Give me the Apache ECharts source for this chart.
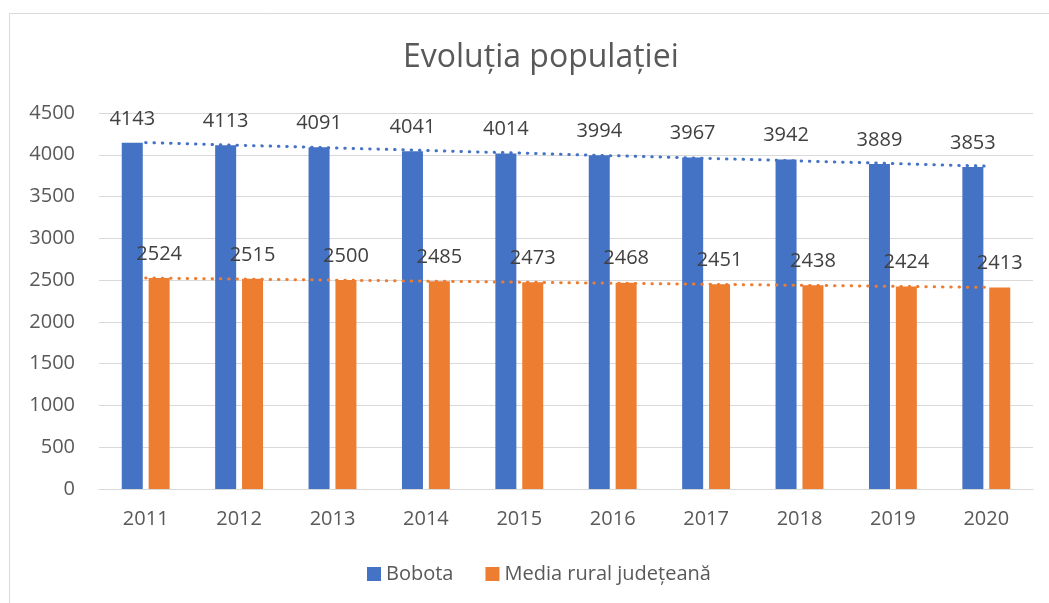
<!DOCTYPE html>
<html>
<head>
<meta charset="utf-8">
<script src="https://cdn.jsdelivr.net/npm/echarts@6/dist/echarts.min.js"></script>
<style>
  html, body { margin: 0; padding: 0; background: #fff; }
  #chart { position: absolute; left: 0; top: 0; width: 1049px; height: 603px; }
</style>
</head>
<body>
<div id="chart"></div>
<script>
const years = ['2011', '2012', '2013', '2014', '2015', '2016', '2017', '2018', '2019', '2020']
const bobota = [4143, 4113, 4091, 4041, 4014, 3994, 3967, 3942, 3889, 3853]
const mediaRural = [2524, 2515, 2500, 2485, 2473, 2468, 2451, 2438, 2424, 2413]

// linear trendline (least squares), like the Excel one
function trend (vals) {
  const n = vals.length
  const mx = (n - 1) / 2
  const my = vals.reduce((a, b) => a + b, 0) / n
  let sxy = 0
  let sxx = 0
  vals.forEach((v, i) => { sxy += (i - mx) * (v - my); sxx += (i - mx) * (i - mx) })
  const k = sxy / sxx
  return vals.map((v, i) => my + k * (i - mx))
}

const font = '"Open Sans", "Noto Sans", sans-serif'
const chart = echarts.init(document.getElementById('chart'))

const labelStyle = {
  show: true,
  position: 'top',
  distance: 14,
  color: '#404040',
  fontSize: 20,
  fontFamily: font
}

chart.setOption({
  animation: false,
  color: ['#4472C4', '#ED7D31'],
  graphic: [{
    type: 'rect',
    shape: { x: 9.5, y: 13.5, width: 1100, height: 700 },
    style: { fill: 'none', stroke: '#d9d9d9', lineWidth: 1 },
    silent: true
  }],
  title: {
    text: 'Evoluția populației',
    left: 398,
    top: 37,
    textStyle: { color: '#595959', fontSize: 32, fontWeight: 'normal', fontFamily: font }
  },
  legend: {
    data: ['Bobota', 'Media rural județeană'],
    bottom: 14,
    left: 362,
    itemWidth: 14,
    itemHeight: 14,
    itemGap: 32,
    icon: 'rect',
    textStyle: { color: '#595959', fontSize: 20, fontFamily: font }
  },
  grid: { left: 99, right: 16, top: 113, bottom: 114 },
  xAxis: {
    type: 'category',
    data: years,
    axisLine: { lineStyle: { color: '#d9d9d9' } },
    axisTick: { show: false },
    axisLabel: { color: '#595959', fontSize: 20, fontFamily: font, margin: 20 }
  },
  yAxis: {
    type: 'value',
    min: 0,
    max: 4500,
    interval: 500,
    axisLine: { show: false },
    axisTick: { show: false },
    splitLine: { lineStyle: { color: '#d9d9d9' } },
    axisLabel: {
      color: '#595959',
      fontSize: 20,
      fontFamily: font,
      margin: 24,
      formatter: function (v) { return String(v) }
    }
  },
  series: [
    {
      name: 'Bobota',
      type: 'bar',
      data: bobota,
      barWidth: 21,
      barGap: '28%',
      label: labelStyle
    },
    {
      name: 'Media rural județeană',
      type: 'bar',
      data: mediaRural,
      barWidth: 21,
      label: labelStyle
    },
    {
      type: 'line',
      data: trend(bobota),
      symbol: 'none',
      z: 5,
      lineStyle: { color: '#4472C4', width: 3, type: [0.5, 7.8], cap: 'round' }
    },
    {
      type: 'line',
      data: trend(mediaRural),
      symbol: 'none',
      z: 5,
      lineStyle: { color: '#ED7D31', width: 3, type: [0.5, 7.8], cap: 'round' }
    }
  ]
})
</script>
</body>
</html>
